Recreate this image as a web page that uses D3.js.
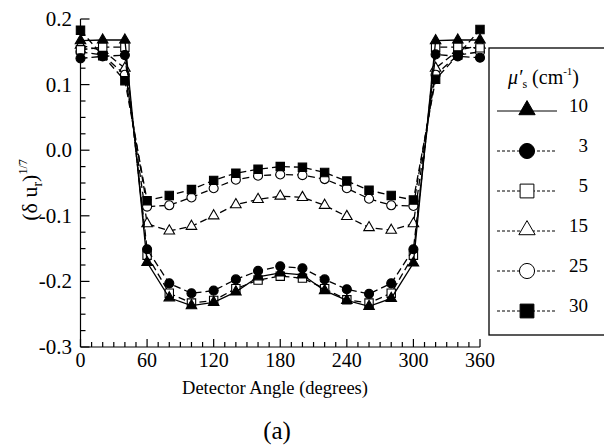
<!DOCTYPE html>
<html>
<head>
<meta charset="utf-8">
<script src="https://cdn.jsdelivr.net/npm/d3@7"></script>
<style>
  html, body { margin: 0; padding: 0; background: #fff; }
  svg { display: block; }
  svg text { font-family: "Liberation Serif", "Times New Roman", serif; }
</style>
</head>
<body>
<svg id="chart" width="604" height="446"></svg>
<script>
// Detector angles (degrees)
const angles = [0, 20, 40, 60, 80, 100, 120, 140, 160, 180, 200, 220, 240, 260, 280, 300, 320, 340, 360];

// Series labels (reduced scattering coefficient, cm^-1)
const seriesLabels = ["10", "3", "5", "15", "25", "30"];

// (δu_r)^(1/7) for each series
const mu10 = [0.167, 0.168, 0.168, -0.171, -0.225, -0.237, -0.232, -0.216, -0.193, -0.187, -0.190, -0.214, -0.229, -0.238, -0.226, -0.172, 0.167, 0.168, 0.168];
const mu3  = [0.140, 0.143, 0.145, -0.151, -0.203, -0.218, -0.214, -0.197, -0.184, -0.177, -0.180, -0.197, -0.212, -0.219, -0.203, -0.151, 0.146, 0.143, 0.141];
const mu5  = [0.153, 0.157, 0.157, -0.160, -0.218, -0.233, -0.229, -0.211, -0.198, -0.192, -0.195, -0.211, -0.228, -0.233, -0.218, -0.160, 0.157, 0.157, 0.156];
const mu15 = [0.160, 0.152, 0.125, -0.112, -0.123, -0.116, -0.100, -0.083, -0.075, -0.070, -0.072, -0.084, -0.101, -0.118, -0.122, -0.112, 0.125, 0.152, 0.160];
const mu25 = [0.150, 0.145, 0.115, -0.086, -0.084, -0.072, -0.058, -0.045, -0.039, -0.037, -0.038, -0.044, -0.058, -0.074, -0.084, -0.085, 0.115, 0.145, 0.150];
const mu30 = [0.183, 0.144, 0.106, -0.077, -0.069, -0.060, -0.046, -0.035, -0.029, -0.025, -0.026, -0.034, -0.047, -0.061, -0.069, -0.076, 0.108, 0.145, 0.184];

// Axis ticks
const xTicks = [0, 60, 120, 180, 240, 300, 360];
const yTicks = [0.2, 0.1, 0.0, -0.1, -0.2, -0.3];
const yTickLabels = ["0.2", "0.1", "0.0", "-0.1", "-0.2", "-0.3"];

const seriesValues = [mu10, mu3, mu5, mu15, mu25, mu30];
// marker style per series: symbol type, filled?, solid line?
const styles = [
  { sym: d3.symbolTriangle, fill: true,  solid: true,  size: 48,  lsize: 115 },
  { sym: d3.symbolCircle,   fill: true,  solid: false, size: 64,  lsize: 180 },
  { sym: d3.symbolSquare,   fill: false, solid: false, size: 70,  lsize: 190 },
  { sym: d3.symbolTriangle, fill: false, solid: false, size: 48,  lsize: 115 },
  { sym: d3.symbolCircle,   fill: false, solid: false, size: 64,  lsize: 180 },
  { sym: d3.symbolSquare,   fill: true,  solid: false, size: 70,  lsize: 190 }
];

const svg = d3.select("#chart");
const x = d3.scaleLinear().domain([0, 360]).range([80.5, 480]);
const y = d3.scaleLinear().domain([-0.3, 0.2]).range([347, 19]);

// Axes: left and bottom lines with inward ticks
const axes = svg.append("g").attr("stroke", "#000").attr("stroke-width", 1.2);
axes.append("line").attr("x1", x(0)).attr("x2", x(0)).attr("y1", y(0.2)).attr("y2", y(-0.3));
axes.append("line").attr("x1", x(0)).attr("x2", x(360)).attr("y1", y(-0.3)).attr("y2", y(-0.3));

d3.range(0, 361, 10).forEach(d => {
  const major = d % 60 === 0;
  axes.append("line").attr("x1", x(d)).attr("x2", x(d))
    .attr("y1", y(-0.3)).attr("y2", y(-0.3) - (major ? 8 : 5));
});
d3.range(0, 21).forEach(i => {
  const v = -0.3 + i * 0.025;
  const major = i % 4 === 0;
  axes.append("line").attr("x1", x(0)).attr("x2", x(0) + (major ? 9 : 5))
    .attr("y1", y(v)).attr("y2", y(v));
});

// Tick labels
svg.append("g").selectAll("text").data(xTicks).join("text")
  .attr("x", d => x(d)).attr("y", 367).attr("text-anchor", "middle")
  .attr("font-size", 20).text(d => d);
svg.append("g").selectAll("text").data(yTicks).join("text")
  .attr("x", 72).attr("y", d => y(d) + 7).attr("text-anchor", "end")
  .attr("font-size", 21).text((d, i) => yTickLabels[i]);

// Axis titles
svg.append("text").attr("x", 275).attr("y", 394).attr("text-anchor", "middle")
  .attr("font-size", 18.5).text("Detector Angle (degrees)");
svg.append("text").attr("x", 277).attr("y", 439).attr("text-anchor", "middle")
  .attr("font-size", 25).text("(a)");

const yl = svg.append("text").attr("transform", "translate(37,190) rotate(-90)")
  .attr("text-anchor", "middle").attr("font-size", 22);
yl.append("tspan").text("(δ u");
yl.append("tspan").attr("font-size", 14).attr("dy", 5).text("r");
yl.append("tspan").attr("dy", -5).text(")");
yl.append("tspan").attr("font-size", 12).attr("dy", -10).text("1/7");

// Series lines and markers
const line = d3.line().x((d, i) => x(angles[i])).y(d => y(d));
const drawOrder = [3, 4, 2, 1, 5, 0];
drawOrder.forEach(si => {
  const st = styles[si];
  const g = svg.append("g");
  g.append("path").datum(seriesValues[si]).attr("d", line)
    .attr("fill", "none").attr("stroke", "#000").attr("stroke-width", 1.3)
    .attr("stroke-dasharray", st.solid ? null : "7,4");
  g.selectAll("path.m").data(seriesValues[si]).join("path").attr("class", "m")
    .attr("transform", (d, i) => `translate(${x(angles[i])},${y(d)})`)
    .attr("d", d3.symbol().type(st.sym).size(st.size))
    .attr("fill", st.fill ? "#000" : "#fff").attr("stroke", "#000").attr("stroke-width", 1.1);
});

// Legend
const lg = svg.append("g");
lg.append("rect").attr("x", 489).attr("y", 48).attr("width", 140).attr("height", 287)
  .attr("fill", "#fff").attr("stroke", "#000").attr("stroke-width", 1.3);
const lt = lg.append("text").attr("x", 508).attr("y", 84).attr("font-size", 20);
lt.append("tspan").attr("font-style", "italic").text("μ′");
lt.append("tspan").attr("font-size", 12).attr("dy", 4).text("s");
lt.append("tspan").attr("dy", -4).text(" (cm");
lt.append("tspan").attr("font-size", 11).attr("dy", -9).text("-1");
lt.append("tspan").attr("dy", 9).text(")");

seriesLabels.forEach((lab, i) => {
  const st = styles[i];
  const ly = 111 + i * 40;
  lg.append("line").attr("x1", 497).attr("x2", 557).attr("y1", ly).attr("y2", ly)
    .attr("stroke", "#000").attr("stroke-width", 1)
    .attr("stroke-dasharray", st.solid ? null : "3,2");
  lg.append("path").attr("transform", `translate(527,${ly - (st.sym === d3.symbolTriangle ? 1 : 0)})`)
    .attr("d", d3.symbol().type(st.sym).size(st.lsize))
    .attr("fill", st.fill ? "#000" : "#fff").attr("stroke", "#000").attr("stroke-width", 1);
  lg.append("text").attr("x", 588).attr("y", ly + 1).attr("text-anchor", "end")
    .attr("font-size", 19).text(lab);
});
</script>
</body>
</html>
